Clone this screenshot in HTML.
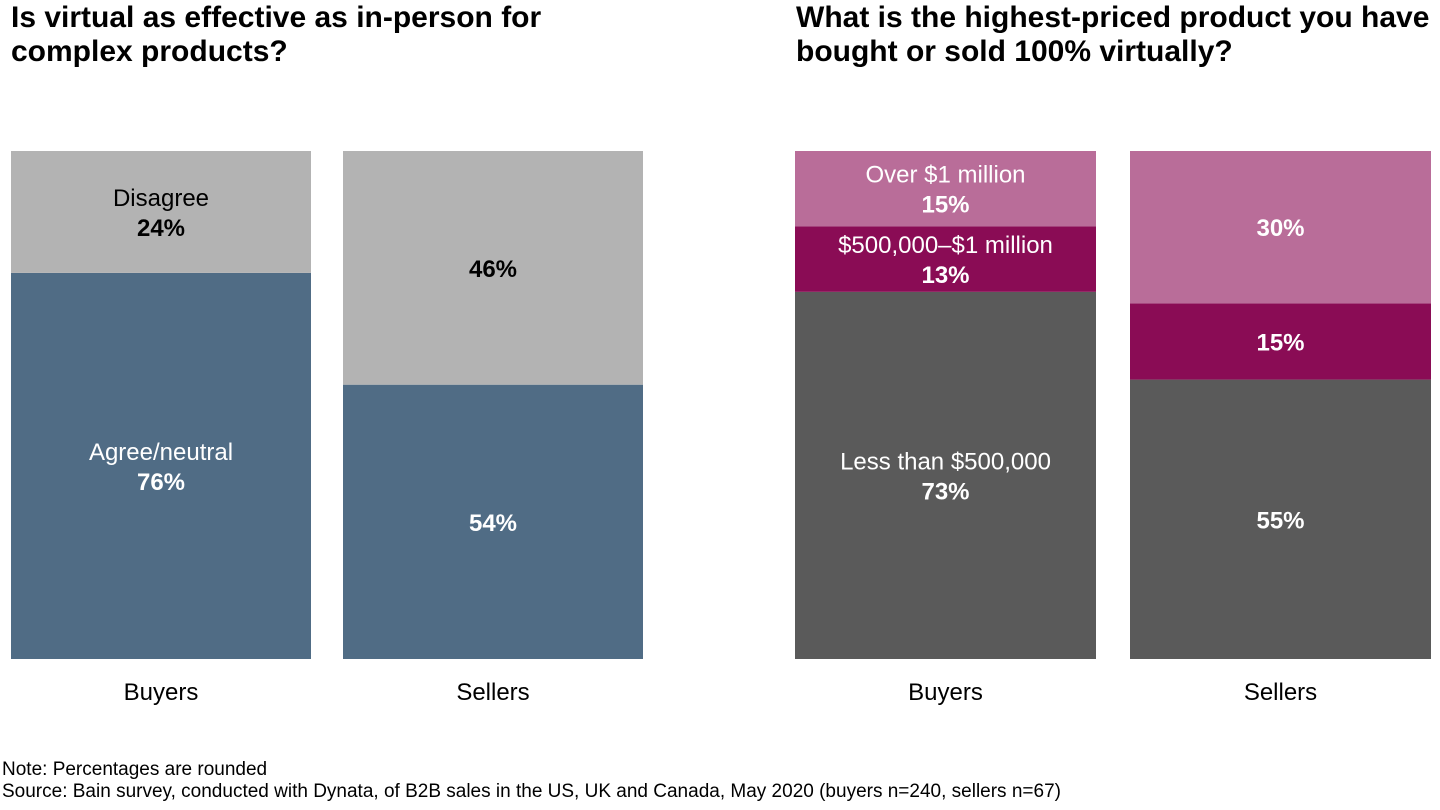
<!DOCTYPE html>
<html><head><meta charset="utf-8"><style>
body{margin:0;width:1440px;height:810px;background:#fff;font-family:"Liberation Sans",sans-serif;position:relative;overflow:hidden}
.t{position:absolute;font-weight:bold;font-size:30px;line-height:34px;color:#000;white-space:nowrap}
.n{position:absolute;left:2px;font-size:19px;color:#000;white-space:nowrap}
svg{position:absolute;left:0;top:0}
</style></head><body>
<div class="t" style="left:11px;top:1px">Is virtual as effective as in-person for<br>complex products?</div>
<div class="t" style="left:796px;top:1px">What is the highest-priced product you have<br>bought or sold 100% virtually?</div>
<div class="n" style="top:759px">Note: Percentages are rounded</div>
<div class="n" style="top:781px">Source: Bain survey, conducted with Dynata, of B2B sales in the US, UK and Canada, May 2020 (buyers n=240, sellers n=67)</div>
<svg id="c" width="1440" height="810"></svg>
<script>
const leftCats=["Buyers","Sellers"];
const leftAgree=[76,54];
const leftDisagree=[24,46];
const rightCats=["Buyers","Sellers"];
const rightLess=[73,55];
const rightMid=[13,15];
const rightOver=[15,30];
const NS="http://www.w3.org/2000/svg";
const svg=document.getElementById('c');
const top0=151,bot=659;
function rect(x,yy,w,h,f,name){const r=document.createElementNS(NS,'rect');r.setAttribute('x',x);r.setAttribute('y',yy);r.setAttribute('width',w);r.setAttribute('height',h);r.setAttribute('fill',f);


svg.appendChild(r);}
function txt(x,yy,s,c,b,name,fs){const t=document.createElementNS(NS,'text');t.setAttribute('x',x);t.setAttribute('y',yy);t.setAttribute('text-anchor','middle');t.setAttribute('font-size',fs||'24');t.setAttribute('fill',c);if(b)t.setAttribute('font-weight','bold');t.textContent=s;


svg.appendChild(t);}
function stack(x,w,segs,cat,key){
  const total=segs.reduce((a,s)=>a+s.v,0);
  const y=v=>(bot-top0)*v/total;
  let base=bot;
  segs.forEach(s=>{const h=y(s.v);const yy=base-h;rect(x,yy,w,h,s.c,'bar-'+key+'-'+s.k);
    const cx=x+w/2,cy=yy+h/2;
    if(s.lab){txt(cx,cy-6,s.lab,s.tc,false,'label-'+key+'-'+s.k);txt(cx,cy+24,s.v+'%',s.tc,true,'value-'+key+'-'+s.k);}
    else txt(cx,cy+9,s.v+'%',s.tc,true,'value-'+key+'-'+s.k);
    base=yy;});
  txt(x+w/2,700,cat,'#000',false,'x-label-'+key);
}
const lx=[11,343],rx=[795,1130],W=300;
leftCats.forEach((c,i)=>stack(lx[i],W,[
 {v:leftAgree[i],c:'#506c85',tc:'#fff',k:'agree',lab:i==0?'Agree/neutral':null},
 {v:leftDisagree[i],c:'#b3b3b3',tc:'#000',k:'disagree',lab:i==0?'Disagree':null}],c,c.toLowerCase()));
rightCats.forEach((c,i)=>stack(rx[i],301,[
 {v:rightLess[i],c:'#5a5a5a',tc:'#fff',k:'less-500k',lab:i==0?'Less than $500,000':null},
 {v:rightMid[i],c:'#8a0c55',tc:'#fff',k:'500k-1m',lab:i==0?'$500,000–$1 million':null},
 {v:rightOver[i],c:'#b96d99',tc:'#fff',k:'over-1m',lab:i==0?'Over $1 million':null}],c,c.toLowerCase()+'-price'));
</script>
</body></html>
